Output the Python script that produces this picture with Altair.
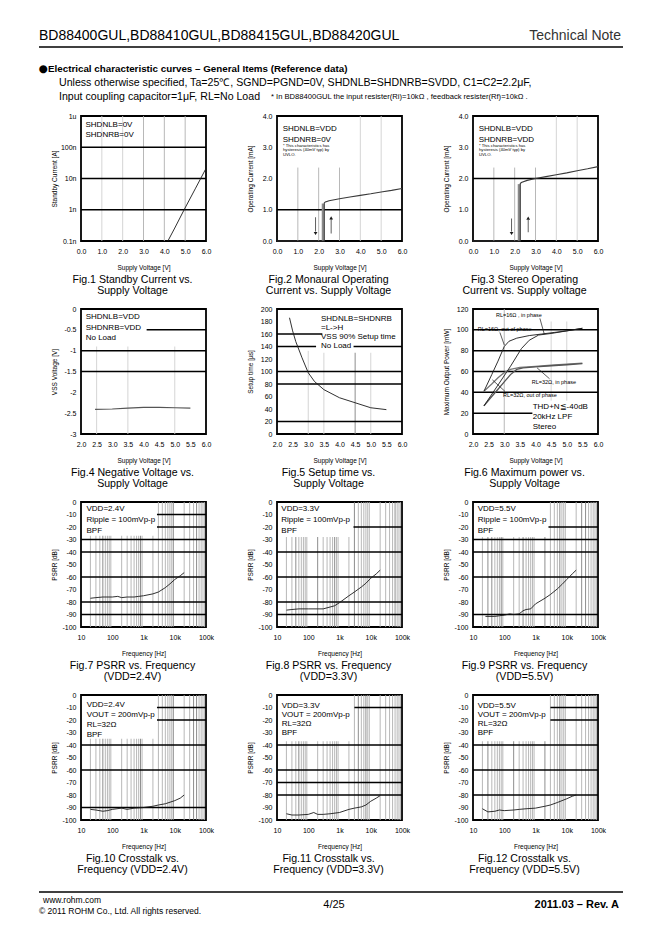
import json
import math
import altair as alt
import pandas as pd

FONT = "Liberation Sans"
LIGHT, MID, DARK = "#d0d0d0", "#b0b0b0", "#808080"
INK = "#1a1a1a"
W = H = 125

# ---------------- page text ----------------
HEADER_TITLE = "BD88400GUL,BD88410GUL,BD88415GUL,BD88420GUL"
HEADER_RIGHT = "Technical Note"
BULLET = "●"
SECTION = "Electrical characteristic curves – General Items (Reference data)"
COND1 = "Unless otherwise specified, Ta=25℃, SGND=PGND=0V, SHDNLB=SHDNRB=SVDD, C1=C2=2.2μF,"
COND2 = "Input coupling capacitor=1μF, RL=No Load"
NOTE = "* In BD88400GUL the input resister(Ri)=10kΩ , feedback resister(Rf)=10kΩ ."
FOOT_URL = "www.rohm.com"
FOOT_COPY = "© 2011 ROHM Co., Ltd. All rights reserved."
FOOT_PAGE = "4/25"
FOOT_REV = "2011.03  –  Rev.  A"

# ---------------- axis ticks ----------------
V06 = [0, 1, 2, 3, 4, 5, 6]
V06_L = ["0.0", "1.0", "2.0", "3.0", "4.0", "5.0", "6.0"]
V26 = [2.0, 2.5, 3.0, 3.5, 4.0, 4.5, 5.0, 5.5, 6.0]
V26_L = ["2.0", "2.5", "3.0", "3.5", "4.0", "4.5", "5.0", "5.5", "6.0"]
I_T = [1e-10, 1e-9, 1e-8, 1e-7, 1e-6]
I_L = ["0.1n", "1n", "10n", "100n", "1u"]
MA_T = [0, 1, 2, 3, 4]
MA_L = ["0.0", "1.0", "2.0", "3.0", "4.0"]
VSS_T = [0, -0.5, -1, -1.5, -2, -2.5, -3]
VSS_L = ["0", "-0.5", "-1", "-1.5", "-2", "-2.5", "-3"]
TS_T = [0, 20, 40, 60, 80, 100, 120, 140, 160, 180, 200]
TS_L = ["0", "20", "40", "60", "80", "100", "120", "140", "160", "180", "200"]
PW_T = [0, 20, 40, 60, 80, 100, 120]
PW_L = ["0", "20", "40", "60", "80", "100", "120"]
DB_T = [0, -10, -20, -30, -40, -50, -60, -70, -80, -90, -100]
DB_L = ["0", "-10", "-20", "-30", "-40", "-50", "-60", "-70", "-80", "-90", "-100"]
F_T = [10, 100, 1000, 10000, 100000]
F_L = ["10", "100", "1k", "10k", "100k"]

# ---------------- data ----------------
# Fig.1 standby current
F1_V = [4.17, 4.5, 4.95, 5.5, 6.0]
F1_I = [1e-10, 2.6e-10, 1e-9, 4.9e-9, 2.1e-8]
# Fig.2 monaural operating current
F2_V = [0, 2.27, 2.27, 2.32, 2.5, 3.0, 3.5, 4.0, 4.5, 5.0, 5.5, 6.0]
F2_I = [0, 0, 1.22, 1.25, 1.29, 1.35, 1.41, 1.46, 1.51, 1.57, 1.62, 1.68]
F2_H_V = [2.2, 2.2]
F2_H_I = [0, 1.2]
# Fig.3 stereo operating current
F3_V = [0, 2.27, 2.27, 2.32, 2.6, 3.0, 3.5, 4.0, 4.5, 5.0, 5.5, 6.0]
F3_I = [0, 0, 1.84, 1.87, 1.94, 2.0, 2.06, 2.12, 2.18, 2.25, 2.31, 2.38]
F3_H_V = [2.2, 2.2]
F3_H_I = [0, 1.82]
# Fig.4 negative voltage
F4_V = [2.45, 3.0, 3.5, 4.0, 4.5, 5.0, 5.5]
F4_VSS = [-2.41, -2.40, -2.38, -2.36, -2.36, -2.37, -2.38]
# Fig.5 setup time
F5_V = [2.4, 2.5, 2.6, 2.8, 3.0, 3.2, 3.5, 4.0, 4.5, 5.0, 5.5]
F5_T = [186, 165, 148, 122, 98, 84, 71, 58, 50, 42, 39]
# Fig.6 maximum output power
F6A_V = [2.35, 2.6, 2.8, 3.0, 3.15, 3.4, 3.8, 4.2, 4.6, 5.0, 5.5]
F6A_P = [41, 57, 70, 84, 89, 92, 94.5, 96, 97.5, 99, 101.5]      # RL=16 out of phase
F6B_V = [2.35, 2.8, 3.2, 3.55, 3.8, 4.1, 4.5, 5.0, 5.5]
F6B_P = [27, 47, 65, 82, 90, 95, 96.5, 99, 101.5]               # RL=16 in phase
F6C_V = [2.35, 2.6, 2.8, 3.0, 3.2, 3.5, 4.0, 4.5, 5.0, 5.5]
F6C_P = [41, 48, 54, 59, 62, 64, 65, 66, 67, 68]                # RL=32 out of phase
F6D_V = [2.35, 2.6, 2.8, 3.0, 3.2, 3.4, 3.6, 4.0, 4.5, 5.0, 5.5]
F6D_P = [27, 36, 43, 50, 57, 62, 63.5, 64.5, 65.5, 66.5, 67.5]  # RL=32 in phase
# Fig.7-9 PSRR
F7_F = [20, 30, 50, 100, 150, 200, 300, 500, 700, 1000, 2000, 3000, 5000, 7000, 10000, 15000, 20000]
F7_DB = [-77, -76.5, -76, -76, -75.5, -76.5, -76, -76, -75.5, -75, -73.5, -72, -68.5, -65.5, -62, -59, -56.5]
F8_F = [20, 30, 50, 100, 200, 300, 500, 700, 1000, 2000, 3000, 5000, 7000, 10000, 15000, 20000]
F8_DB = [-86.5, -86, -85.5, -85.5, -85.5, -85.5, -84, -83, -80.5, -75, -72, -68, -65, -61, -57.5, -54.5]
F9_F = [25, 30, 50, 70, 100, 150, 200, 300, 400, 500, 700, 1000, 2000, 3000, 5000, 7000, 10000, 15000, 20000]
F9_DB = [-91.5, -91.5, -91.5, -91, -90.5, -89.5, -90, -89.5, -87, -86, -85.5, -81.5, -77, -74, -69.5, -66, -62, -57.5, -54.5]
# Fig.10-12 crosstalk
F10_F = [20, 30, 50, 70, 100, 200, 300, 500, 1000, 2000, 3000, 5000, 10000, 15000, 20000]
F10_DB = [-91.5, -92, -93, -92.5, -91.5, -90.5, -91.5, -90.5, -90, -89, -88, -87, -84.5, -82.5, -80]
F11_F = [20, 30, 50, 100, 150, 200, 300, 500, 1000, 2000, 3000, 5000, 7000, 10000, 15000, 20000]
F11_DB = [-95, -96, -96, -95.5, -94, -95.5, -95.5, -95, -94, -91.5, -90.5, -89.5, -88, -85, -82.5, -80.5]
F12_F = [20, 30, 50, 70, 100, 200, 300, 500, 1000, 2000, 3000, 5000, 10000, 15000, 20000]
F12_DB = [-91, -93.5, -93, -92, -92.5, -92, -91.5, -91, -90.5, -89, -88, -86, -83, -81, -80]

DUMMY = pd.DataFrame({"k": [0]})


def lin_expr(values, labels):
    step = values[1] - values[0]
    return f"{json.dumps(labels)}[round((datum.value - ({values[0]})) / ({step}))]"


def log_expr(values, labels):
    e0 = round(math.log10(values[0]))
    return f"{json.dumps(labels)}[round(log(datum.value) / LN10) - ({e0})]"


def make_axis(is_x, title, values, labels, log):
    expr = log_expr(values, labels) if log else lin_expr(values, labels)
    common = dict(title=title, values=values, labelExpr=expr, grid=False, ticks=False, tickSize=0,
                  domain=False, labelFontSize=7, labelOverlap=False, labelFlush=False,
                  labelColor="black", titleFontSize=6.5, titleFontWeight="normal",
                  titleColor="black", labelFont=FONT, titleFont=FONT)
    if is_x:
        return alt.Axis(labelPadding=6, titleY=23, **common)
    return alt.Axis(labelPadding=5, titleX=-24, **common)


def make_scale(dom, log):
    if log:
        return alt.Scale(type="log", domain=dom, nice=False)
    return alt.Scale(domain=dom, nice=False, zero=False)


def text_layer(lines, x, y, size=8, align="left", baseline="top", weight="normal",
               color="black", lh=10.8, font=FONT):
    return alt.Chart(DUMMY).mark_text(
        align=align, baseline=baseline, fontSize=size, font=font, fontWeight=weight,
        color=color, lineHeight=lh
    ).encode(x=alt.value(x), y=alt.value(y), text=alt.value(lines))


def rule_px(x0, x1, y, width=1.2, opacity=1):
    return alt.Chart(DUMMY).mark_rule(color="black", strokeWidth=width, opacity=opacity).encode(
        x=alt.value(x0), x2=alt.value(x1), y=alt.value(y))


def panel(p):
    xlog, ylog = p.get("xlog", False), p.get("ylog", False)
    xs, ys = make_scale(p["xdom"], xlog), make_scale(p["ydom"], ylog)
    xa = make_axis(True, p["xtitle"], p["xt"], p["xl"], xlog)
    ya = make_axis(False, p["ytitle"], p["yt"], p["yl"], ylog)

    def X(f):
        return alt.X(f, type="quantitative", scale=xs, axis=xa)

    def Y(f):
        return alt.Y(f, type="quantitative", scale=ys, axis=ya)

    layers = []
    vg = pd.DataFrame(p["vgrid"], columns=["x", "y0", "y1", "c"])
    layers.append(alt.Chart(vg).mark_rule(strokeWidth=0.9).encode(
        x=X("x"), y=Y("y0"), y2="y1", color=alt.Color("c:N", scale=None)))
    hg = pd.DataFrame(p["hgrid"], columns=["y", "x0", "x1"])
    layers.append(alt.Chart(hg).mark_rule(strokeWidth=1.5, color="black").encode(
        y=Y("y"), x=X("x0"), x2="x1"))

    rows = []
    for si, (xv, yv, col, wid) in enumerate(p["lines"]):
        for oi, (a, b) in enumerate(zip(xv, yv)):
            rows.append({"x": a, "y": b, "s": si, "o": oi, "c": col, "w": wid})
    ld = pd.DataFrame(rows)
    layers.append(alt.Chart(ld).mark_line().encode(
        x=X("x"), y=Y("y"), detail="s:N", order="o:Q",
        color=alt.Color("c:N", scale=None), strokeWidth=alt.StrokeWidth("w:Q", scale=None)))

    if p.get("segs"):
        sd = pd.DataFrame(p["segs"], columns=["x", "y", "x2", "y2"])
        layers.append(alt.Chart(sd).mark_rule(color=INK, strokeWidth=0.7).encode(
            x=X("x"), y=Y("y"), x2="x2", y2="y2"))
    if p.get("heads"):
        hd = pd.DataFrame(p["heads"], columns=["x", "y", "sh"])
        layers.append(alt.Chart(hd).mark_point(filled=True, size=14, color=INK, opacity=1).encode(
            x=X("x"), y=Y("y"), shape=alt.Shape("sh:N", scale=None)))

    for t in p["texts"]:
        layers.append(text_layer(**t))
    # caption under the panel
    layers.append(text_layer(p["caption"], W / 2 - 11, H + 33.5, size=10.6, align="center", lh=11))
    layers.extend(p.get("extra", []))

    return alt.layer(*layers).properties(width=W, height=H)


def psrr_grid(dark, box_right, box_bottom):
    rows = []
    for d in [10, 100, 1000, 10000]:
        for m in range(2, 10):
            f = d * m
            top = box_bottom if f < box_right else 0
            rows.append((f, -100, top, DARK if f in dark else MID))
    return rows


HEADER = [
    text_layer(HEADER_TITLE, -42, -80, size=14, baseline="middle"),
    text_layer(HEADER_RIGHT, 540, -80, size=14, baseline="middle", align="right", color="#333333"),
    rule_px(-42, 542, -69, 1.3),
    text_layer(BULLET, -42.5, -47, size=10.5, baseline="middle", font="DejaVu Sans"),
    text_layer(SECTION, -33, -47, size=9.8, baseline="middle", weight="bold"),
    text_layer(COND1, -22, -33, size=10.6, baseline="middle"),
    text_layer(COND2, -22, -19, size=10.6, baseline="middle"),
    text_layer(NOTE, 190, -19, size=7.6, baseline="middle"),
    rule_px(-72, 0, -107, 1, opacity=0),
]
FOOTER = [
    rule_px(-42, 542, 197, 1.3),
    text_layer(FOOT_URL, -38, 205, size=8.5, baseline="middle"),
    text_layer(FOOT_COPY, -42, 216, size=8.5, baseline="middle"),
    text_layer(FOOT_PAGE, 253, 210, size=11, baseline="middle", align="center"),
    text_layer(FOOT_REV, 538, 210, size=11, baseline="middle", align="right", weight="bold"),
]

SV = "Supply Voltage [V]"
FQ = "Frequency [Hz]"
SMALL = ["* This characteristics has", "hysteresis (40mV typ) by", "UVLO."]

P = []
# Fig.1
P.append(dict(
    xdom=[0, 6], ydom=[1e-10, 1e-6], ylog=True, xt=V06, xl=V06_L, yt=I_T, yl=I_L,
    xtitle=SV, ytitle="Standby Current  [A]",
    vgrid=[(1, 1e-10, 1e-6, LIGHT), (2, 1e-10, 1e-6, LIGHT), (3, 1e-10, 1e-6, MID),
           (4, 1e-10, 1e-6, MID), (5, 1e-10, 1e-6, MID)],
    hgrid=[(1e-9, 0, 6), (1e-8, 0, 6), (1e-7, 0, 6)],
    lines=[(F1_V, F1_I, INK, 0.9)],
    texts=[dict(lines=["SHDNLB=0V", "SHDNRB=0V"], x=4.5, y=4.6, lh=10.5)],
    extra=HEADER,
    caption=["Fig.1 Standby Current vs.", "Supply Voltage"]))
# Fig.2
P.append(dict(
    xdom=[0, 6], ydom=[0, 4], xt=V06, xl=V06_L, yt=MA_T, yl=MA_L,
    xtitle=SV, ytitle="Operating Current  [mA]",
    vgrid=[(1, 0, 2.35, MID), (2, 0, 2.35, MID), (3, 0, 2.35, MID), (4, 0, 4, LIGHT), (5, 0, 4, LIGHT)],
    hgrid=[(1.0, 0, 6)],
    lines=[(F2_H_V, F2_H_I, "#8a8a8a", 2.2), (F2_V, F2_I, "#3a3a3a", 1.1)],
    segs=[(1.85, 0.76, 1.85, 0.3), (2.6, 0.24, 2.6, 0.7)],
    heads=[(1.85, 0.24, "triangle-down"), (2.6, 0.74, "triangle-up")],
    texts=[dict(lines=["SHDNLB=VDD", "SHDNRB=0V"], x=5.7, y=9.3, lh=10.6),
           dict(lines=SMALL, x=6, y=28.4, size=4.2, lh=4.1)],
    caption=["Fig.2 Monaural Operating", "Current vs. Supply Voltage"]))
# Fig.3
P.append(dict(
    xdom=[0, 6], ydom=[0, 4], xt=V06, xl=V06_L, yt=MA_T, yl=MA_L,
    xtitle=SV, ytitle="Operating Current  [mA]",
    vgrid=[(1, 0, 2.35, MID), (2, 0, 2.35, MID), (3, 0, 2.35, MID), (4, 0, 4, LIGHT), (5, 0, 4, LIGHT)],
    hgrid=[(2.0, 0, 6)],
    lines=[(F3_H_V, F3_H_I, "#8a8a8a", 2.2), (F3_V, F3_I, "#3a3a3a", 1.1)],
    segs=[(1.85, 0.72, 1.85, 0.3), (2.65, 0.28, 2.65, 0.68)],
    heads=[(1.85, 0.24, "triangle-down"), (2.65, 0.73, "triangle-up")],
    texts=[dict(lines=["SHDNLB=VDD", "SHDNRB=VDD"], x=5.7, y=9.3, lh=10.6),
           dict(lines=SMALL, x=6, y=28.4, size=4.2, lh=4.1)],
    caption=["Fig.3 Stereo Operating", "Current vs. Supply voltage"]))
# Fig.4
P.append(dict(
    xdom=[2, 6], ydom=[-3, 0], xt=V26, xl=V26_L, yt=VSS_T, yl=VSS_L,
    xtitle=SV, ytitle="VSS Voltage [V]",
    vgrid=[(2.5, -3, -0.9, LIGHT), (3.5, -3, -0.9, LIGHT), (5.0, -3, -0.9, LIGHT)],
    hgrid=[(-0.5, 4.1, 6), (-1.0, 2, 6), (-1.5, 2, 6)],
    lines=[(F4_V, F4_VSS, "#555555", 1.1)],
    texts=[dict(lines=["SHDNLB=VDD", "SHDNRB=VDD", "No Load"], x=4.7, y=4.1, lh=10.5)],
    caption=["Fig.4 Negative Voltage vs.", "Supply Voltage"]))
# Fig.5
P.append(dict(
    xdom=[2, 6], ydom=[0, 200], xt=V26, xl=V26_L, yt=TS_T, yl=TS_L,
    xtitle=SV, ytitle="Setup time [µs]",
    vgrid=[(3.0, 0, 133, LIGHT), (3.5, 0, 130, LIGHT), (4.5, 0, 130, DARK), (5.0, 0, 130, LIGHT)],
    hgrid=[(160, 2, 3.45), (140, 2, 3.25), (140, 4.45, 6), (100, 2, 6), (80, 2, 6), (20, 2, 6)],
    lines=[(F5_V, F5_T, INK, 0.9)],
    texts=[dict(lines=["SHDNLB=SHDNRB", "=L->H", "VSS 90% Setup time", "No Load"], x=44, y=5.6, lh=9.2)],
    caption=["Fig.5 Setup time vs.", "Supply Voltage"]))
# Fig.6
P.append(dict(
    xdom=[2, 6], ydom=[0, 120], xt=V26, xl=V26_L, yt=PW_T, yl=PW_L,
    xtitle=SV, ytitle="Maximum Output Power [mW]",
    vgrid=[(3.0, 0, 120, MID), (4.5, 32, 108, LIGHT), (5.0, 32, 108, LIGHT)],
    hgrid=[(100, 2, 6), (80, 2, 6), (60, 2, 6), (40, 2, 6), (20, 2, 3.9)],
    lines=[(F6C_V, F6C_P, "#777777", 1.3), (F6D_V, F6D_P, "#555555", 1.3),
           (F6A_V, F6A_P, INK, 0.9), (F6B_V, F6B_P, INK, 0.9)],
    segs=[(4.14, 111, 4.28, 96), (2.86, 97.5, 3.0, 85.5), (4.05, 63.5, 4.45, 53), (2.62, 52, 3.02, 41)],
    texts=[dict(lines="RL=16Ω , in phase", x=23, y=6, size=5.5, baseline="middle"),
           dict(lines="RL=16Ω, out of phase", x=4.7, y=20.3, size=5.5, baseline="middle"),
           dict(lines="RL=32Ω, in phase", x=58.7, y=72.7, size=5.5, baseline="middle"),
           dict(lines="RL=32Ω, out of phase", x=30, y=86, size=5.5, baseline="middle"),
           dict(lines=["THD+N≦-40dB", "20kHz LPF", "Stereo"], x=59.7, y=93.6, lh=10.3)],
    caption=["Fig.6 Maximum power vs.", "Supply Voltage"]))


def psrr_panel(fx, fy, grid, hgrid, texts, lh, tx, ty, caption):
    return dict(
        xdom=[10, 100000], xlog=True, ydom=[-100, 0], xt=F_T, xl=F_L, yt=DB_T, yl=DB_L,
        xtitle=FQ, ytitle="PSRR [dB]", vgrid=grid, hgrid=hgrid,
        lines=[(fx, fy, INK, 0.9)],
        texts=[dict(lines=texts, x=tx, y=ty, lh=lh)],
        caption=caption)


RIP = "Ripple = 100mVp-p"
VOUT = "VOUT = 200mVp-p"
P.append(psrr_panel(F7_F, F7_DB, psrr_grid({50, 800, 9000, 50000}, 2700, -27),
                    [(-10, 2700, 1e5), (-20, 2700, 1e5), (-30, 10, 1e5), (-40, 10, 1e5),
                     (-60, 10, 1e5), (-80, 10, 1e5), (-90, 10, 1e5)],
                    ["VDD=2.4V", RIP, "BPF"], 11.2, 5.5, 2.6,
                    ["Fig.7 PSRR vs. Frequency", "(VDD=2.4V)"]))
P.append(psrr_panel(F8_F, F8_DB, psrr_grid({40, 200, 700, 3000, 60000}, 2800, -28),
                    [(-20, 2800, 1e5), (-40, 10, 1e5), (-60, 10, 1e5), (-80, 10, 1e5), (-90, 10, 1e5)],
                    ["VDD=3.3V", RIP, "BPF"], 11.0, 4.3, 2.6,
                    ["Fig.8 PSRR vs. Frequency", "(VDD=3.3V)"]))
P.append(psrr_panel(F9_F, F9_DB, psrr_grid({30, 40, 80, 400, 2000, 6000, 30000, 40000}, 2600, -28),
                    [(-20, 2600, 1e5), (-30, 10, 1e5), (-40, 10, 1e5), (-60, 10, 1e5), (-90, 10, 1e5)],
                    ["VDD=5.5V", RIP, "BPF"], 11.0, 4.7, 2.6,
                    ["Fig.9 PSRR vs. Frequency", "(VDD=5.5V)"]))
P.append(psrr_panel(F10_F, F10_DB, psrr_grid({50, 800, 9000, 40000, 50000}, 2700, -35),
                    [(-10, 2700, 1e5), (-20, 2700, 1e5), (-40, 10, 1e5), (-60, 10, 1e5), (-90, 10, 1e5)],
                    ["VDD=2.4V", VOUT, "RL=32Ω", "BPF"], 10.2, 5.7, 5.6,
                    ["Fig.10 Crosstalk vs.", "Frequency (VDD=2.4V)"]))
P[-1]["extra"] = FOOTER
P.append(psrr_panel(F11_F, F11_DB, psrr_grid({50, 4000, 7000}, 3000, -37),
                    [(-10, 3000, 1e5), (-40, 10, 1e5), (-60, 10, 1e5), (-70, 10, 1e5), (-80, 10, 1e5)],
                    ["VDD=3.3V", VOUT, "RL=32Ω", "BPF"], 9.2, 4.7, 6.6,
                    ["Fig.11 Crosstalk vs.", "Frequency (VDD=3.3V)"]))
P.append(psrr_panel(F12_F, F12_DB, psrr_grid({30, 200, 2000, 6000}, 3000, -37),
                    [(-10, 3000, 1e5), (-20, 3000, 1e5), (-40, 10, 1e5), (-60, 10, 1e5), (-80, 10, 1e5)],
                    ["VDD=5.5V", VOUT, "RL=32Ω", "BPF"], 9.2, 4.7, 6.6,
                    ["Fig.12 Crosstalk vs.", "Frequency (VDD=5.5V)"]))

panels = [panel(p) for p in P]

chart = alt.ConcatChart(
    concat=panels, columns=3, spacing={"row": 68, "column": 71}, bounds="flush"
).properties(
    padding=0, background="white"
).configure(font=FONT).configure_view(
    stroke="black", strokeWidth=1.8
)

chart.save("out.html", embed_options={"renderer": "svg", "actions": False})
